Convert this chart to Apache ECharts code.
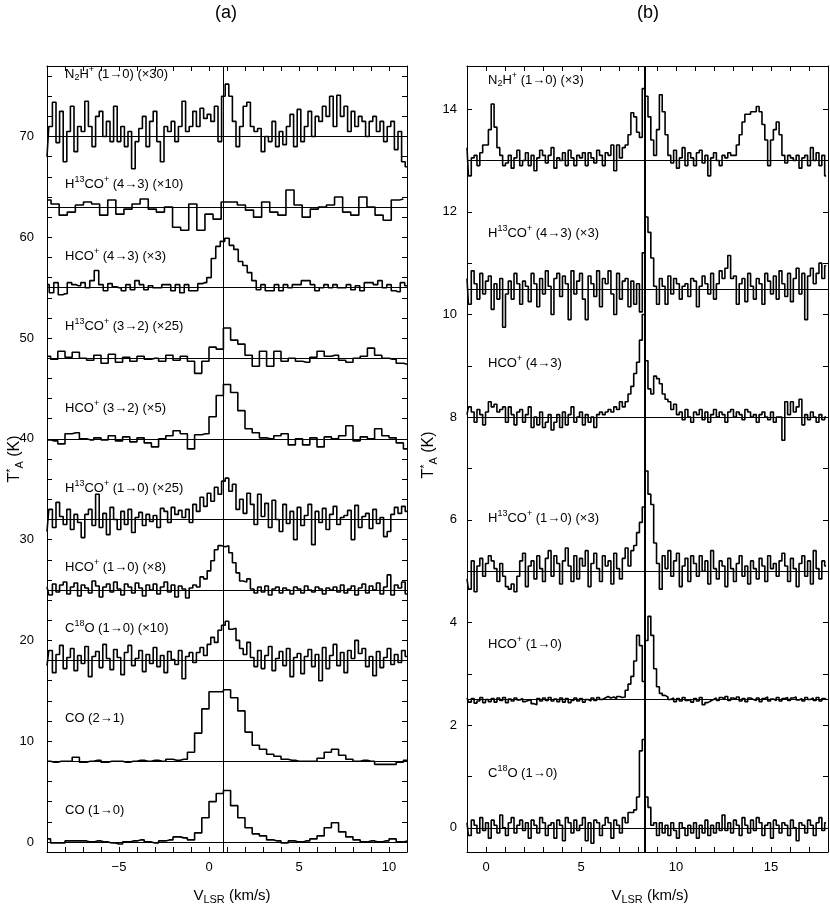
<!DOCTYPE html>
<html>
<head>
<meta charset="utf-8">
<script src="https://cdn.jsdelivr.net/npm/echarts@6/dist/echarts.min.js"></script>
<style>
html,body{margin:0;padding:0;background:#fff;}
#chart{width:830px;height:909px;}
</style>
</head>
<body>
<div id="chart"></div>
<script>
// ---------------- DATA ----------------
// Panel (a): values are offsets above each spectrum's baseline (plot units, already scaled)
const a_n2h = [-2.0,1.0,3.4,-0.6,2.5,-2.5,0.5,3.0,-1.5,1.0,
 0.5,3.5,1.0,-1.0,2.0,2.5,0.0,1.5,-0.5,3.0,
 -0.5,1.0,-1.0,0.5,-3.2,-0.5,0.8,2.0,-1.0,1.5,
 2.5,-0.5,-2.5,1.0,0.5,1.5,-0.5,1.0,3.5,0.5,
 1.0,2.5,1.0,2.8,1.8,2.2,1.5,3.0,-0.5,4.0,
 5.2,4.0,1.5,-1.0,1.0,3.0,3.4,1.0,0.5,0.8,
 -1.5,0.0,-0.5,1.5,-1.0,0.5,-0.8,1.0,2.2,-1.0,
 2.7,-0.5,1.0,2.5,0.0,2.0,1.5,3.0,2.0,4.0,
 1.0,4.1,2.0,3.0,0.5,2.5,1.0,2.0,1.5,0.0,
 1.5,2.0,0.5,1.5,-0.5,1.0,1.5,-1.3,0.5,-2.5,
 -3.0];
const a_h13co43 = [0.7,0.3,-0.8,-0.5,0.2,0.5,0.3,-0.8,0.7,-0.7,
 -0.2,0.3,0.8,-0.2,-0.5,0.0,-2.0,-2.3,0.3,-2.3,
 -0.7,-1.2,0.5,0.5,0.2,-0.3,-1.0,0.5,-0.5,-0.8,
 1.7,0.2,-1.0,-0.2,0.0,0.2,1.0,-0.5,-0.8,1.0,
 0.0,-0.8,-1.3,0.7,0.8];
const a_hco43 = [0.3,-0.5,0.5,-0.7,-0.6,0.5,0.3,0.2,0.5,0.0,
 0.7,1.7,0.3,-0.3,0.4,0.1,0.0,-0.3,0.3,-0.2,
 0.7,0.3,-0.2,0.2,0.0,0.0,0.3,0.3,-0.3,0.3,
 -0.5,0.3,-0.3,-0.3,0.4,0.5,1.0,2.9,4.1,4.6,
 4.9,4.2,3.8,2.6,2.2,1.5,0.7,-0.2,0.3,-0.3,
 -0.3,0.3,-0.3,0.3,0.0,0.3,0.3,0.7,0.7,0.3,
 -0.3,0.0,0.3,0.0,0.3,0.0,0.0,0.3,-0.2,0.2,
 -0.3,0.5,0.5,0.3,0.7,0.0,0.3,-0.3,-0.4,0.5,
 0.2];
const a_h13co32 = [0.2,-0.1,0.7,0.1,0.6,0.0,-0.2,0.3,-0.5,0.4,
 -0.4,0.1,-0.3,0.2,-0.1,0.0,-0.3,0.3,-0.2,0.2,
 -0.3,-1.5,-0.3,1.1,0.9,3.0,1.8,1.4,0.3,-0.8,
 0.7,-0.8,0.7,-0.3,0.0,-0.3,-0.4,0.1,0.7,0.2,
 0.3,-0.2,-0.4,0.0,0.2,1.0,0.3,0.0,-0.1,-0.5,
 -0.6];
const a_hco32 = [-0.1,-0.2,-0.5,0.5,0.6,0.0,-0.1,0.1,-0.1,0.3,
 -0.2,0.2,-0.3,0.1,-0.4,-0.8,0.0,0.3,0.8,0.5,
 -1.0,0.4,0.5,2.2,4.3,5.4,4.6,2.8,1.0,0.6,
 0.1,0.0,0.3,0.5,-0.6,0.0,-0.6,0.1,-0.8,0.2,
 0.0,0.3,1.3,-0.2,0.2,0.0,1.0,0.3,0.1,-0.4,
 -1.0];
const a_h13co10 = [-1.2,1.0,-0.8,1.7,0.3,-0.5,1.0,-1.0,0.5,-0.3,
 -1.8,0.5,1.0,-0.6,2.5,-0.8,0.6,-1.5,1.2,0.0,
 -1.0,0.8,-0.5,1.0,-1.3,0.2,0.7,-0.6,0.5,-0.2,
 0.4,-0.8,1.1,0.8,-0.3,1.2,0.5,0.9,0.2,1.0,
 -0.3,1.5,0.8,2.2,1.3,2.6,1.8,3.2,2.5,3.8,
 4.1,2.8,3.5,1.0,2.0,0.6,2.6,1.5,-0.5,2.5,
 0.3,1.6,-0.8,1.9,0.0,-1.2,1.5,-0.4,0.8,-2.0,
 1.2,-0.6,0.4,1.5,-2.5,0.8,-0.3,1.1,-1.0,0.5,
 1.3,-0.5,0.2,0.4,0.9,-2.0,1.4,-0.8,0.3,0.6,
 -0.9,1.0,-0.4,0.2,-1.7,-1.2,0.5,1.2,0.6,1.3,
 0.8];
const a_hco10 = [0.3,-0.5,0.6,-0.2,0.5,0.8,-0.4,0.3,0.7,-0.6,
 0.5,0.2,-0.3,0.9,0.4,-0.7,0.3,0.6,-0.2,0.8,
 0.1,-0.5,0.6,0.3,-0.3,0.7,0.2,-0.6,0.5,0.0,
 0.6,-0.4,0.3,0.8,-0.2,0.5,-0.7,0.4,0.1,-0.8,
 0.2,0.5,0.3,1.3,1.1,1.9,2.9,4.0,4.4,4.3,
 4.4,3.7,2.7,1.7,0.9,0.8,1.1,0.1,-0.3,0.3,
 -0.2,0.4,-0.5,0.1,0.3,-0.3,0.2,0.0,-0.4,0.3,
 0.1,-0.3,0.4,0.0,-0.2,0.3,0.1,-0.4,0.2,0.0,
 0.3,-0.2,0.5,-0.3,0.1,0.4,-0.5,0.2,0.6,-0.3,
 0.4,0.0,0.7,-0.4,0.3,1.5,-0.5,0.5,0.2,0.8,
 -0.4];
const a_c18o = [-0.5,1.0,-1.2,0.6,1.5,-0.8,0.3,1.2,-1.0,0.5,
 -0.3,1.4,-1.6,0.4,0.9,-0.7,1.6,0.2,-0.9,1.1,
 0.3,-1.4,0.8,1.5,-0.5,0.2,1.0,-1.1,0.6,-0.3,
 1.3,-0.6,0.5,-1.2,0.9,0.1,-0.4,1.0,-1.8,0.4,
 0.8,-0.2,0.8,1.3,0.5,1.6,2.3,1.8,3.0,3.5,
 3.9,3.1,3.2,2.0,1.2,0.6,1.8,0.3,-0.6,1.0,
 -0.8,0.5,1.4,-1.0,0.2,0.9,-0.5,1.2,-1.6,0.3,
 0.7,-1.3,0.4,1.1,-0.6,0.6,-2.0,1.3,-0.8,0.5,
 1.6,-0.5,0.8,-1.2,1.0,0.2,2.0,0.7,1.2,-0.6,
 0.4,-1.5,0.9,-0.7,0.3,1.2,-0.4,0.6,-0.2,1.0,
 0.4];
const a_co21 = [0.0,-0.1,0.0,0.0,0.4,-0.1,0.0,0.1,-0.1,0.0,
 0.0,-0.1,0.0,0.1,0.0,0.1,0.0,0.2,0.1,0.2,
 0.9,2.8,5.2,6.9,6.9,7.1,6.3,5.0,2.9,1.6,
 1.2,0.7,0.5,0.2,0.1,0.0,0.0,0.0,0.3,0.9,
 1.2,0.6,0.2,0.0,0.1,0.0,-0.3,-0.3,-0.3,-0.1,
 0.1];
const a_co10 = [0.3,-0.1,-0.1,0.1,0.1,0.1,0.0,0.1,0.0,-0.1,
 -0.2,0.0,0.1,0.2,0.0,-0.1,0.1,0.2,0.5,0.4,
 0.2,0.9,2.4,4.0,4.8,5.1,3.6,2.4,1.4,0.8,
 0.6,0.2,0.1,-0.1,0.1,0.0,0.1,0.3,0.6,1.4,
 1.9,1.0,0.5,0.2,0.0,0.1,0.0,0.1,0.3,0.0,
 0.1];

const panelA_values = [a_n2h, a_h13co43, a_hco43, a_h13co32, a_hco32, a_h13co10, a_hco10, a_c18o, a_co21, a_co10];
const panelA_baselines = [70, 63, 55, 48, 40, 32, 25, 18, 8, 0];
const panelA_v0 = [-9, -9, -9, -9, -9, -9, -9, -9, -9, -9];
const panelA_dv = [0.2, 0.45, 0.25, 0.4, 0.4, 0.2, 0.2, 0.2, 0.4, 0.4];
const panelA_labels = [
 'N{b|2}H{p|+} (1→0) (×30)',
 'H{p|13}CO{p|+} (4→3) (×10)',
 'HCO{p|+} (4→3) (×3)',
 'H{p|13}CO{p|+} (3→2) (×25)',
 'HCO{p|+} (3→2) (×5)',
 'H{p|13}CO{p|+} (1→0) (×25)',
 'HCO{p|+} (1→0) (×8)',
 'C{p|18}O (1→0) (×10)',
 'CO (2→1)',
 'CO (1→0)'
];
const panelA_vref = 0.8;

// Panel (b)
const b_n2h = [0.25,-0.3,0.05,0.1,-0.1,0.15,0.3,0.3,0.6,1.1,
 0.65,0.25,0.1,-0.1,-0.05,0.1,-0.15,0.05,0.2,-0.1,
 0.0,0.15,-0.1,0.1,-0.2,0.05,0.2,0.1,-0.05,0.1,
 0.25,-0.15,0.05,0.0,0.15,-0.1,0.2,0.05,-0.1,0.1,
 0.05,0.15,-0.1,0.15,0.05,-0.05,0.2,0.1,-0.1,0.15,
 0.1,0.3,-0.2,0.3,0.05,0.25,0.3,0.5,0.93,0.85,
 0.55,0.45,1.4,1.25,0.85,0.4,0.1,0.6,1.28,0.95,
 0.5,0.1,-0.05,0.2,-0.15,0.05,0.25,-0.1,0.15,0.05,
 -0.1,0.15,0.2,-0.05,0.1,-0.3,0.05,0.15,0.0,-0.1,
 0.1,0.05,0.15,0.1,0.1,0.3,0.5,0.75,0.9,0.9,
 0.95,0.95,1.05,0.95,0.7,0.4,-0.1,0.4,0.6,0.75,
 0.5,0.1,-0.05,0.1,0.05,0.0,0.1,-0.15,0.05,0.1,
 -0.1,0.25,0.0,0.15,-0.1,0.1,-0.3];
const b_h13co43 = [0.2,-0.3,0.35,0.1,-0.2,0.3,-0.1,0.15,0.25,-0.4,
 0.1,-0.2,0.2,-0.75,-0.1,0.15,-0.2,0.3,0.1,-0.3,
 0.15,0.05,-0.25,0.3,0.1,-0.35,0.2,-0.1,0.35,0.05,
 -0.5,0.2,0.3,-0.15,0.25,0.1,-0.6,0.35,-0.1,0.15,
 0.3,-0.2,-0.6,0.25,0.1,-0.15,0.35,-0.35,0.2,0.1,
 0.35,-0.1,-0.5,0.3,-0.2,0.15,0.2,-0.35,0.15,-0.3,
 0.1,-0.45,0.7,1.4,1.1,0.6,0.05,-0.3,0.2,0.05,
 -0.3,0.25,-0.1,0.2,0.1,-0.2,0.05,0.1,-0.15,0.2,
 0.15,-0.35,0.05,0.25,0.1,-0.1,0.3,-0.2,0.1,0.35,
 0.2,0.4,0.65,0.2,0.25,-0.3,0.1,0.2,-0.25,0.3,
 0.05,-0.2,0.2,0.1,-0.3,0.3,0.15,-0.1,0.25,-0.2,
 0.35,0.1,-0.15,0.3,-0.25,0.2,0.4,-0.1,0.3,-0.6,
 0.25,0.4,0.1,0.3,0.5,0.2,0.45];
const b_hco43 = [0.05,0.2,0.1,-0.1,0.15,0.05,-0.15,0.1,0.3,0.2,
 0.25,0.1,0.15,0.2,-0.1,0.2,0.05,-0.15,0.1,0.15,
 -0.1,0.05,0.2,-0.2,0.0,-0.15,0.1,-0.2,-0.1,0.05,
 -0.25,-0.1,0.05,-0.2,0.1,-0.15,0.05,0.2,-0.1,0.0,
 0.1,-0.15,0.05,-0.1,0.0,-0.2,0.05,0.1,0.05,0.1,
 0.15,0.1,0.2,0.15,0.3,0.2,0.3,0.45,0.6,0.85,
 1.07,1.5,2.0,1.1,0.55,0.45,0.8,0.75,0.65,0.45,
 0.35,0.3,0.15,0.25,0.05,0.1,-0.05,0.15,0.0,-0.1,
 0.1,0.05,0.15,-0.05,0.1,-0.1,0.05,0.15,0.0,0.1,
 0.05,-0.1,0.1,0.15,0.0,0.1,0.05,-0.05,0.15,0.1,
 0.0,0.05,-0.1,0.05,0.1,0.0,-0.05,0.1,-0.1,0.0,
 0.0,-0.45,0.3,0.05,0.3,0.1,0.2,0.35,-0.15,0.05,
 -0.05,0.1,0.0,-0.1,0.05,-0.05,0.0];
const b_h13co10 = [-0.15,-0.35,0.2,-0.4,0.1,0.25,-0.1,0.15,0.3,0.2,
 0.05,-0.2,0.15,-0.1,-0.3,-0.35,-0.25,-0.4,-0.1,0.2,
 0.35,-0.3,0.1,0.2,-0.15,0.3,0.05,-0.2,0.25,0.4,
 -0.1,0.3,0.15,-0.25,0.2,0.45,0.1,-0.2,0.3,-0.15,
 0.25,0.1,0.4,-0.3,0.15,0.35,0.05,-0.2,0.3,0.1,
 0.2,-0.25,0.35,0.05,-0.15,0.25,0.45,0.1,0.4,0.5,
 0.75,0.95,1.25,1.95,1.5,1.3,0.55,0.15,-0.35,0.3,
 0.05,0.4,-0.1,0.2,0.35,-0.3,0.1,0.25,-0.2,0.3,
 0.15,-0.1,0.3,0.0,0.2,-0.25,0.4,0.05,-0.15,0.2,
 0.1,-0.3,0.25,0.05,-0.2,0.15,0.3,-0.1,0.1,-0.25,
 0.2,0.05,-0.15,0.25,0.1,-0.2,0.3,0.05,0.15,-0.1,
 0.2,0.35,0.1,-0.2,0.25,0.05,-0.3,0.15,0.3,-0.1,
 0.2,-0.25,0.4,0.05,-0.15,0.2,0.1];
const b_hco10 = [0.03,-0.05,0.02,-0.07,-0.03,0.04,-0.06,0.0,-0.04,0.02,
 -0.05,0.03,-0.02,0.04,-0.06,0.01,-0.03,0.03,-0.01,0.02,
 -0.04,-0.02,0.0,-0.08,-0.1,0.02,-0.03,0.03,-0.02,0.04,
 -0.03,0.01,-0.04,0.03,-0.05,0.02,-0.06,-0.02,0.03,-0.03,
 0.02,-0.05,0.0,-0.03,0.03,-0.02,0.04,0.0,0.03,0.06,
 0.03,0.05,0.02,0.06,0.04,0.05,0.18,0.3,0.45,0.75,
 1.25,1.05,0.35,1.15,1.62,1.25,0.6,0.25,0.12,0.08,
 0.05,0.0,0.03,-0.04,0.02,-0.03,0.04,-0.02,0.0,-0.05,
 0.02,-0.03,0.04,-0.1,-0.06,-0.03,0.0,0.03,-0.02,0.04,
 0.01,0.06,-0.02,0.03,0.0,0.05,-0.03,0.02,-0.04,0.03,
 0.0,-0.02,0.03,-0.04,0.02,0.05,-0.03,0.01,-0.02,0.04,
 -0.03,0.02,0.04,-0.02,0.03,0.05,-0.01,0.02,-0.03,0.04,
 0.0,0.03,-0.02,0.04,-0.03,0.02,0.0];
const b_c18o = [0.1,-0.15,0.15,0.05,-0.1,0.2,-0.05,0.1,-0.2,0.15,
 0.05,-0.1,0.25,0.0,-0.15,0.1,0.2,-0.1,0.05,0.15,
 -0.05,0.1,-0.2,0.15,0.05,-0.1,0.2,0.1,-0.15,0.05,
 0.1,-0.2,0.15,0.05,-0.25,0.2,0.1,-0.1,0.15,-0.05,
 0.05,0.2,-0.25,0.1,-0.3,0.15,0.1,-0.15,0.05,0.2,
 0.1,-0.2,0.15,0.05,-0.1,0.2,0.1,0.3,0.3,0.35,
 0.6,1.5,1.72,0.6,0.4,0.05,0.1,-0.15,0.1,-0.1,
 0.05,-0.15,0.1,-0.05,-0.2,0.1,0.0,-0.15,0.05,-0.1,
 0.1,-0.2,0.05,-0.1,0.15,-0.15,0.05,-0.1,0.1,-0.05,
 0.25,-0.05,0.1,-0.1,0.15,0.05,-0.15,0.2,0.05,-0.1,
 0.15,-0.05,0.2,0.1,-0.15,0.05,0.1,-0.2,0.15,0.05,
 -0.1,0.1,0.05,-0.15,0.15,0.0,-0.25,0.1,0.05,-0.1,
 0.15,0.05,-0.15,0.1,0.2,-0.05,0.1];

const panelB_values = [b_n2h, b_h13co43, b_hco43, b_h13co10, b_hco10, b_c18o];
const panelB_baselines = [13, 10.5, 8, 5, 2.5, 0];
const panelB_v0 = [-1, -1, -1, -1, -1, -1];
const panelB_dv = [0.15, 0.15, 0.15, 0.15, 0.15, 0.15];
const panelB_labels = [
 'N{b|2}H{p|+} (1→0) (×3)',
 'H{p|13}CO{p|+} (4→3) (×3)',
 'HCO{p|+} (4→3)',
 'H{p|13}CO{p|+} (1→0) (×3)',
 'HCO{p|+} (1→0)',
 'C{p|18}O (1→0)'
];
const panelB_vref = 8.35;

// axis ranges and tick labels
const aXRange = [-9, 11], aYRange = [-1, 77];
const bXRange = [-1, 18], bYRange = [-0.47, 14.84];
const aXLabels = [-5, 0, 5, 10];
const aYLabels = [0, 10, 20, 30, 40, 50, 60, 70];
const bXLabels = [0, 5, 10, 15];
const bYLabels = [0, 2, 4, 6, 8, 10, 12, 14];
const aXTicks = [], aYTicks = [], bXTicks = [], bYTicks = [];
for (let v = -8; v <= 10; v++) aXTicks.push(v);
for (let v = 0; v <= 76; v += 2) aYTicks.push(v);
for (let v = 0; v <= 17; v++) bXTicks.push(v);
for (let v = 0; v <= 14; v++) bYTicks.push(v);

// ---------------- LAYOUT / STYLE ----------------
const FONT = '"Liberation Sans", "DejaVu Sans", Arial, sans-serif';
const chart = echarts.init(document.getElementById('chart'), null, {renderer: 'canvas'});

function spec(vals, v0, dv, base) {
  return vals.map((v, i) => [Math.round((v0 + i * dv) * 1000) / 1000, base + v]);
}

function xAx(grid, range, ticks, labels, pos, show) {
  return {
    type: 'value', gridIndex: grid, min: range[0], max: range[1], position: pos,
    axisLine: {show: true, onZero: false, lineStyle: {color: '#000', width: 1}},
    axisTick: {show: true, inside: true, length: 5, customValues: ticks, lineStyle: {color: '#000', width: 1}},
    axisLabel: {show: show, customValues: labels, color: '#000', fontSize: 13, fontFamily: FONT, margin: 9,
      formatter: v => String(v).replace('-', '\u2212')},
    splitLine: {show: false}
  };
}
function yAx(grid, range, ticks, labels, pos, show, margin) {
  return {
    type: 'value', gridIndex: grid, min: range[0], max: range[1], position: pos,
    axisLine: {show: true, onZero: false, lineStyle: {color: '#000', width: 1}},
    axisTick: {show: true, inside: true, length: 5, customValues: ticks, lineStyle: {color: '#000', width: 1}},
    axisLabel: {show: show, customValues: labels, color: '#000', fontSize: 13, fontFamily: FONT, margin: margin},
    splitLine: {show: false}
  };
}

const series = [];
function addPanel(values, bases, v0s, dvs, vref, axisIdx, vrefWidth) {
  values.forEach((vals, k) => {
    const ml = [{yAxis: bases[k], lineStyle: {color: '#000', width: 1, type: 'solid'}}];
    if (k === 0) ml.push({xAxis: vref, lineStyle: {color: '#000', width: vrefWidth, type: 'solid'}});
    series.push({
      type: 'line', xAxisIndex: axisIdx, yAxisIndex: axisIdx,
      data: spec(vals, v0s[k], dvs[k], bases[k]),
      step: 'middle', showSymbol: false, symbol: 'none', silent: true, animation: false,
      lineStyle: {color: '#000', width: 1.6}, z: 3, clip: true,
      markLine: {silent: true, symbol: ['none', 'none'], label: {show: false}, animation: false,
        emphasis: {disabled: true}, data: ml}
    });
  });
}
addPanel(panelA_values, panelA_baselines, panelA_v0, panelA_dv, panelA_vref, 0, 1);
addPanel(panelB_values, panelB_baselines, panelB_v0, panelB_dv, panelB_vref, 2, 2);

const rich = {
  b: {fontSize: 9, lineHeight: 9, verticalAlign: 'bottom', fontFamily: FONT, fill: '#000'},
  p: {fontSize: 9, lineHeight: 9, verticalAlign: 'top', fontFamily: FONT, fill: '#000'}
};
const richBig = {
  b: {fontSize: 11, lineHeight: 11, verticalAlign: 'bottom', fontFamily: FONT, fill: '#000'},
  p: {fontSize: 11, lineHeight: 11, verticalAlign: 'top', fontFamily: FONT, fill: '#000'}
};
function txt(x, y, text, size, align, r, rot) {
  return {type: 'text', x: x, y: y, rotation: rot || 0, silent: true,
    style: {text: text, fontSize: size, fontFamily: FONT, fill: '#000', align: align, verticalAlign: 'middle',
      lineHeight: size + 4, rich: r || rich}};
}
const graphics = [];
const labelYA = [74, 184, 256, 326, 408, 488, 567, 628, 718, 810];
const labelYB = [80, 233, 363, 518, 644, 773];
panelA_labels.forEach((t, k) => graphics.push(txt(65, labelYA[k], t, 13, 'left')));
panelB_labels.forEach((t, k) => graphics.push(txt(488, labelYB[k], t, 13, 'left')));
graphics.push(txt(226, 13, '(a)', 18, 'center'));
graphics.push(txt(648, 13, '(b)', 18, 'center'));
graphics.push(txt(232, 896, 'V{b|LSR} (km/s)', 15, 'center', richBig));
graphics.push(txt(650, 896, 'V{b|LSR} (km/s)', 15, 'center', richBig));
graphics.push(txt(15, 459, 'T{p|*}{b|A} (K)', 16, 'center', richBig, Math.PI / 2));
graphics.push(txt(429, 455, 'T{p|*}{b|A} (K)', 16, 'center', richBig, Math.PI / 2));

chart.setOption({
  backgroundColor: '#fff',
  animation: false,
  grid: [
    {left: 47, top: 66, width: 360, height: 786},
    {left: 467, top: 66, width: 361, height: 786}
  ],
  xAxis: [
    xAx(0, aXRange, aXTicks, aXLabels, 'bottom', true),
    xAx(0, aXRange, aXTicks, aXLabels, 'top', false),
    xAx(1, bXRange, bXTicks, bXLabels, 'bottom', true),
    xAx(1, bXRange, bXTicks, bXLabels, 'top', false)
  ],
  yAxis: [
    yAx(0, aYRange, aYTicks, aYLabels, 'left', true, 13),
    yAx(0, aYRange, aYTicks, aYLabels, 'right', false, 8),
    yAx(1, bYRange, bYTicks, bYLabels, 'left', true, 10),
    yAx(1, bYRange, bYTicks, bYLabels, 'right', false, 8)
  ],
  series: series,
  graphic: graphics
});
</script>
</body>
</html>
